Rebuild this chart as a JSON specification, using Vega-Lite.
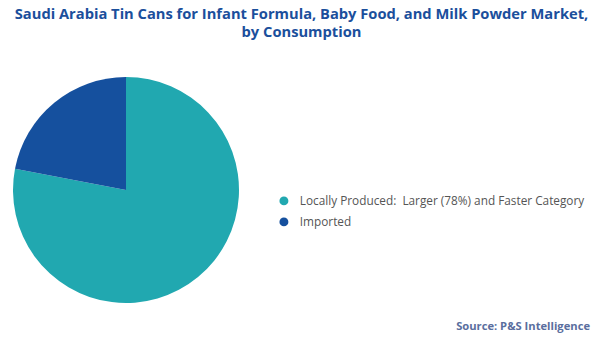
{
  "$schema": "https://vega.github.io/schema/vega-lite/v6.json",
  "background": "white",
  "padding": {"left": 13, "top": 7, "right": 9, "bottom": 4},
  "title": {
    "text": ["Saudi Arabia Tin Cans for Infant Formula, Baby Food, and Milk Powder Market,", "by Consumption"],
    "anchor": "middle",
    "fontSize": 14.7,
    "font": "Open Sans",
    "fontWeight": 700,
    "color": "#1b4f9c",
    "lineHeight": 18,
    "offset": 37
  },
  "vconcat": [
    {
      "width": 226,
      "height": 226,
      "view": {"stroke": null},
      "title": {
        "text": "Source: P&S Intelligence",
        "orient": "bottom",
        "anchor": "end",
        "dx": 351,
        "offset": 18,
        "fontSize": 11.2,
        "font": "Open Sans",
        "fontWeight": 700,
        "color": "#5a6e9e"
      },
      "data": {
        "values": [
          {"category": "Locally Produced:\u00a0 Larger (78%) and Faster Category", "share": 78, "rank": 1},
          {"category": "Imported", "share": 22, "rank": 2}
        ]
      },
      "mark": {"type": "arc"},
      "encoding": {
        "theta": {"field": "share", "type": "quantitative", "stack": true},
        "order": {"field": "rank", "type": "quantitative"},
        "color": {
          "field": "category",
          "type": "nominal",
          "sort": ["Locally Produced:\u00a0 Larger (78%) and Faster Category", "Imported"],
          "scale": {
            "domain": ["Locally Produced:\u00a0 Larger (78%) and Faster Category", "Imported"],
            "range": ["#21a8b0", "#15509e"]
          },
          "legend": {
            "title": null,
            "orient": "none",
            "legendX": 265,
            "legendY": 118,
            "symbolType": "circle",
            "symbolSize": 80,
            "labelFont": "Open Sans",
            "labelFontSize": 11.8,
            "labelColor": "#555555",
            "rowPadding": 8,
            "labelOffset": 10,
            "labelLimit": 400
          }
        }
      }
    }
  ]
}
